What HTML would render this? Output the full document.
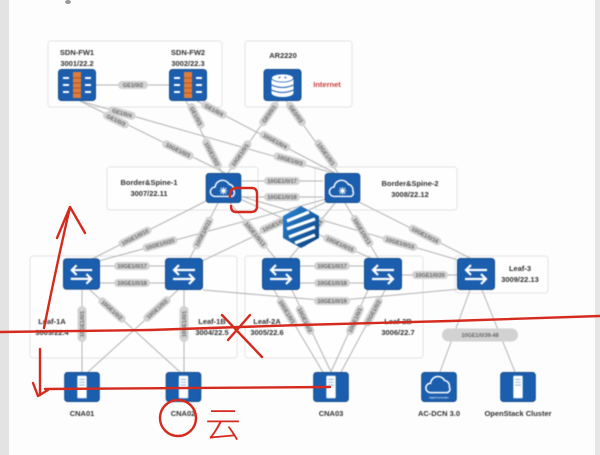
<!DOCTYPE html>
<html><head><meta charset="utf-8"><style>
html,body{margin:0;padding:0;background:#fdfdfd;}
svg{display:block;}
.ln{stroke:#b3b3b3;stroke-width:1;fill:none;}
.bx{fill:#fefefe;stroke:#e4e4e4;stroke-width:1;}
.lb rect{fill:#d2d2d2;}
.lb text{font-family:"Liberation Sans",sans-serif;font-weight:bold;font-size:5.5px;fill:#666;text-anchor:middle;}
.t{font-family:"Liberation Sans",sans-serif;font-weight:bold;font-size:7.5px;fill:#333;text-anchor:middle;}
.red{stroke:#d52b1e;stroke-width:2.4;fill:none;stroke-linecap:round;stroke-linejoin:round;}
</style></head><body>
<svg width="600" height="455" viewBox="0 0 600 455" xmlns="http://www.w3.org/2000/svg">
<defs>
<symbol id="fw" viewBox="0 0 38 32"><rect x="0.5" y="0.5" width="37" height="31" rx="3" fill="#1b5eae" stroke="#144b8c"/>
<rect x="15" y="3" width="8" height="26" fill="#e07b39"/><path d="M15 9H23M15 14H23M15 19H23M15 24H23" stroke="#a04a1a" stroke-width="0.8"/>
<path d="M5 9H11M5 16H11M5 23H11M27 9H33M27 16H33M27 23H33" stroke="#fff" stroke-width="2"/></symbol>
<symbol id="ar" viewBox="0 0 38 32"><rect x="0.5" y="0.5" width="37" height="31" rx="3" fill="#1b5eae" stroke="#144b8c"/>
<rect x="8" y="9" width="22" height="15" fill="#fff"/><ellipse cx="19" cy="9" rx="11" ry="4" fill="#fff" stroke="#1b5eae" stroke-width="0.8"/><ellipse cx="19" cy="24" rx="11" ry="4" fill="#fff"/>
<path d="M8 16Q19 21 30 16M8 21Q19 26 30 21" stroke="#1b5eae" stroke-width="1" fill="none"/><path d="M15 9L17 8M21 8L23 9" stroke="#1b5eae" stroke-width="1"/></symbol>
<symbol id="spine" viewBox="0 0 38 32"><rect x="0.5" y="0.5" width="37" height="31" rx="3" fill="#1b5eae" stroke="#144b8c"/>
<path d="M10 25a5 5 0 0 1 0-10a8 8 0 0 1 15-3a6 6 0 0 1 5 7a4 4 0 0 1-2 6Z" stroke="#fff" stroke-width="1.5" fill="none"/>
<path d="M19 15V23M15 19H23M16 16L22 22M22 16L16 22" stroke="#fff" stroke-width="1"/><circle cx="19" cy="19" r="1.8" fill="#fff"/></symbol>
<symbol id="leaf" viewBox="0 0 38 32"><rect x="0.5" y="0.5" width="37" height="31" rx="3" fill="#1b5eae" stroke="#144b8c"/>
<path d="M9 12H30M14 7L9 12L14 17M8 21H29M24 16L29 21L24 26" stroke="#fff" stroke-width="2.2" fill="none"/></symbol>
<symbol id="srv" viewBox="0 0 38 32"><rect x="0.5" y="0.5" width="37" height="31" rx="3" fill="#1b5eae" stroke="#144b8c"/>
<rect x="14" y="4" width="10" height="24" rx="1" fill="#fff"/><path d="M16 8H22M16 11H22M16 14H22" stroke="#8fb3dd" stroke-width="1"/></symbol>
<symbol id="ac" viewBox="0 0 38 32"><rect x="0.5" y="0.5" width="37" height="31" rx="3" fill="#1b5eae" stroke="#144b8c"/>
<path d="M10 22a5 5 0 0 1 0-10a8 8 0 0 1 15-3a6 6 0 0 1 5 7a4 4 0 0 1-2 6Z" stroke="#fff" stroke-width="1.6" fill="none"/>
<text x="19" y="28" font-family="Liberation Sans" font-size="3.2" fill="#fff" text-anchor="middle">AgileController</text></symbol>
<linearGradient id="lg" x1="0" y1="0" x2="1" y2="1"><stop offset="0" stop-color="#2a86d6"/><stop offset="1" stop-color="#0b3e7e"/></linearGradient>
</defs>

<rect x="0" y="0" width="600" height="455" fill="#fdfdfd"/>
<rect x="0" y="0" width="9" height="455" fill="#e3e3e3"/>
<rect x="595" y="0" width="5" height="455" fill="#e6e6e6"/>
<ellipse cx="68" cy="2" rx="3" ry="2" fill="#999"/>

<g style="filter:blur(0.5px)">
<rect class="bx" x="48" y="41" width="174" height="66" rx="3"/>
<rect class="bx" x="245" y="41" width="107" height="66" rx="3"/>
<rect class="bx" x="107" y="167" width="151" height="43" rx="3"/>
<rect class="bx" x="315" y="167" width="142" height="43" rx="3"/>
<rect class="bx" x="30" y="256" width="207" height="102" rx="3"/>
<rect class="bx" x="245" y="256" width="178" height="102" rx="3"/>
<rect class="bx" x="455" y="256" width="93" height="37" rx="3"/>

<path class="ln" d="M96 85H169"/>
<path class="ln" d="M80 101L225 173"/>
<path class="ln" d="M80 101L340 175"/>
<path class="ln" d="M186 101L222 173"/>
<path class="ln" d="M197 101L335 173"/>
<path class="ln" d="M278 101L228 173"/>
<path class="ln" d="M286 101L338 173"/>
<path class="ln" d="M242 181H323M242 197H323"/>
<path class="ln" d="M212 198L90 260"/>
<path class="ln" d="M330 198L95 262"/>
<path class="ln" d="M218 203L190 258"/>
<path class="ln" d="M330 200L200 262"/>
<path class="ln" d="M230 203L275 258"/>
<path class="ln" d="M335 203L290 258"/>
<path class="ln" d="M238 198L375 260"/>
<path class="ln" d="M345 203L378 258"/>
<path class="ln" d="M240 196L465 262"/>
<path class="ln" d="M355 200L470 258"/>
<path class="ln" d="M100 266H165M100 283H165M300 266H364M300 283H364M402 275H457"/>
<path class="ln" d="M203 290L332 301L460 289"/>
<path class="ln" d="M82 290V372M184 290V372M90 290L180 372M178 290L88 372"/>
<path class="ln" d="M274 290L324 374M292 290L332 374M368 290L330 374M385 290L340 374"/>
<path class="ln" d="M470 290L440 372M482 290L515 372"/>

<g class="lb">
<g transform="translate(133,85)"><rect x="-15" y="-4" width="30" height="8" rx="4"/><text y="2">GE1/0/2</text></g>
<g transform="translate(116,120) rotate(26)"><rect x="-14" y="-4" width="28" height="8" rx="4"/><text y="2">GE1/0/3</text></g>
<g transform="translate(178,150) rotate(26)"><rect x="-17" y="-4" width="34" height="8" rx="4"/><text y="2">10GE1/0/3</text></g>
<g transform="translate(122,113) rotate(16)"><rect x="-14" y="-4" width="28" height="8" rx="4"/><text y="2">GE1/0/4</text></g>
<g transform="translate(290,160) rotate(16)"><rect x="-17" y="-4" width="34" height="8" rx="4"/><text y="2">10GE1/0/3</text></g>
<g transform="translate(196,116) rotate(63)"><rect x="-14" y="-4" width="28" height="8" rx="4"/><text y="2">GE1/0/3</text></g>
<g transform="translate(212,154) rotate(63)"><rect x="-17" y="-4" width="34" height="8" rx="4"/><text y="2">10GE1/0/2</text></g>
<g transform="translate(214,110) rotate(28)"><rect x="-14" y="-4" width="28" height="8" rx="4"/><text y="2">GE1/0/4</text></g>
<g transform="translate(275,141) rotate(28)"><rect x="-17" y="-4" width="34" height="8" rx="4"/><text y="2">10GE1/0/4</text></g>
<g transform="translate(269,114) rotate(-55)"><rect x="-14" y="-4" width="28" height="8" rx="4"/><text y="2">GE0/0/1</text></g>
<g transform="translate(240,155) rotate(-55)"><rect x="-17" y="-4" width="34" height="8" rx="4"/><text y="2">10GE1/0/1</text></g>
<g transform="translate(296,114) rotate(54)"><rect x="-14" y="-4" width="28" height="8" rx="4"/><text y="2">GE0/0/2</text></g>
<g transform="translate(326,154) rotate(54)"><rect x="-17" y="-4" width="34" height="8" rx="4"/><text y="2">10GE1/0/1</text></g>
<g transform="translate(282,181)"><rect x="-18" y="-4" width="36" height="8" rx="4"/><text y="2">10GE1/0/17</text></g>
<g transform="translate(282,197)"><rect x="-18" y="-4" width="36" height="8" rx="4"/><text y="2">10GE1/0/18</text></g>
<g transform="translate(135,237) rotate(-27)"><rect x="-18" y="-4" width="36" height="8" rx="4"/><text y="2">10GE1/0/10</text></g>
<g transform="translate(160,244) rotate(-15)"><rect x="-18" y="-4" width="36" height="8" rx="4"/><text y="2">10GE1/0/20</text></g>
<g transform="translate(203,233) rotate(-63)"><rect x="-18" y="-4" width="36" height="8" rx="4"/><text y="2">10GE1/0/11</text></g>
<g transform="translate(276,224) rotate(-25)"><rect x="-18" y="-4" width="36" height="8" rx="4"/><text y="2">10GE1/0/12</text></g>
<g transform="translate(255,234) rotate(51)"><rect x="-18" y="-4" width="36" height="8" rx="4"/><text y="2">10GE1/0/13</text></g>
<g transform="translate(312,232) rotate(-51)"><rect x="-18" y="-4" width="36" height="8" rx="4"/><text y="2">10GE1/0/14</text></g>
<g transform="translate(340,244) rotate(24)"><rect x="-18" y="-4" width="36" height="8" rx="4"/><text y="2">10GE1/0/15</text></g>
<g transform="translate(362,231) rotate(59)"><rect x="-18" y="-4" width="36" height="8" rx="4"/><text y="2">10GE1/0/13</text></g>
<g transform="translate(400,243) rotate(16)"><rect x="-18" y="-4" width="36" height="8" rx="4"/><text y="2">10GE1/0/15</text></g>
<g transform="translate(425,235) rotate(27)"><rect x="-18" y="-4" width="36" height="8" rx="4"/><text y="2">10GE1/0/16</text></g>
<g transform="translate(132,266)"><rect x="-18" y="-4" width="36" height="8" rx="4"/><text y="2">10GE1/0/17</text></g>
<g transform="translate(132,283)"><rect x="-18" y="-4" width="36" height="8" rx="4"/><text y="2">10GE1/0/18</text></g>
<g transform="translate(332,266)"><rect x="-18" y="-4" width="36" height="8" rx="4"/><text y="2">10GE1/0/17</text></g>
<g transform="translate(332,283)"><rect x="-18" y="-4" width="36" height="8" rx="4"/><text y="2">10GE1/0/18</text></g>
<g transform="translate(430,275)"><rect x="-18" y="-4" width="36" height="8" rx="4"/><text y="2">10GE1/0/20</text></g>
<g transform="translate(332,301)"><rect x="-18" y="-4" width="36" height="8" rx="4"/><text y="2">10GE1/0/19</text></g>
<g transform="translate(82,324) rotate(-90)"><rect x="-18" y="-4.5" width="36" height="9" rx="4.5"/><text y="2">10GE1/0/1</text></g>
<g transform="translate(184,324) rotate(-90)"><rect x="-18" y="-4.5" width="36" height="9" rx="4.5"/><text y="2">10GE1/0/1</text></g>
<g transform="translate(112,310) rotate(42)"><rect x="-17" y="-4" width="34" height="8" rx="4"/><text y="2">10GE1/0/2</text></g>
<g transform="translate(157,309) rotate(-42)"><rect x="-17" y="-4" width="34" height="8" rx="4"/><text y="2">10GE1/0/2</text></g>
<g transform="translate(287,312) rotate(59)"><rect x="-16" y="-4" width="32" height="8" rx="4"/><text y="2">10GE1/0/1</text></g>
<g transform="translate(305,320) rotate(64)"><rect x="-16" y="-4" width="32" height="8" rx="4"/><text y="2">10GE1/0/2</text></g>
<g transform="translate(355,320) rotate(-66)"><rect x="-16" y="-4" width="32" height="8" rx="4"/><text y="2">10GE1/0/1</text></g>
<g transform="translate(373,312) rotate(-62)"><rect x="-16" y="-4" width="32" height="8" rx="4"/><text y="2">10GE1/0/2</text></g>
<g transform="translate(480,335)"><rect x="-38" y="-6.5" width="76" height="13" rx="6.5"/><text y="2">10GE1/0/39-48</text></g>
</g>

<use href="#fw" x="58" y="69" width="38" height="32"/>
<use href="#fw" x="169" y="69" width="38" height="32"/>
<use href="#ar" x="263" y="69" width="39" height="32"/>
<use href="#spine" x="205" y="173" width="37" height="30"/>
<use href="#spine" x="323" y="173" width="39" height="30"/>
<use href="#leaf" x="63" y="258" width="37" height="32"/>
<use href="#leaf" x="165" y="258" width="38" height="32"/>
<use href="#leaf" x="262" y="258" width="38" height="32"/>
<use href="#leaf" x="364" y="258" width="38" height="32"/>
<use href="#leaf" x="457" y="258" width="38" height="32"/>
<use href="#srv" x="63" y="372" width="38" height="30"/>
<use href="#srv" x="165" y="372" width="37" height="30"/>
<use href="#srv" x="312" y="372" width="38" height="30"/>
<use href="#ac" x="420" y="372" width="38" height="30"/>
<use href="#srv" x="499" y="372" width="38" height="30"/>

<text class="t" x="77" y="55">SDN-FW1</text>
<text class="t" x="77" y="66">3001/22.2</text>
<text class="t" x="188" y="55">SDN-FW2</text>
<text class="t" x="188" y="66">3002/22.3</text>
<text class="t" x="283" y="58">AR2220</text>
<text class="t" x="327" y="87" style="fill:#c9403a">Internet</text>
<text class="t" x="149" y="185">Border&amp;Spine-1</text>
<text class="t" x="149" y="196">3007/22.11</text>
<text class="t" x="410" y="186">Border&amp;Spine-2</text>
<text class="t" x="410" y="197">3008/22.12</text>
<text class="t" x="520" y="271">Leaf-3</text>
<text class="t" x="520" y="282">3009/22.13</text>
<text class="t" x="52" y="324">Leaf-1A</text>
<text class="t" x="52" y="335">3003/22.4</text>
<text class="t" x="212" y="324">Leaf-1B</text>
<text class="t" x="212" y="335">3004/22.5</text>
<text class="t" x="267" y="324">Leaf-2A</text>
<text class="t" x="267" y="335">3005/22.6</text>
<text class="t" x="398" y="324">Leaf-2B</text>
<text class="t" x="398" y="335">3006/22.7</text>
<text class="t" x="82" y="416">CNA01</text>
<text class="t" x="183" y="416">CNA02</text>
<text class="t" x="331" y="416">CNA03</text>
<text class="t" x="439" y="416">AC-DCN 3.0</text>
<text class="t" x="518" y="416">OpenStack Cluster</text>

<g transform="translate(301,227)">
<polygon points="0,-21 18,-11 18,11 0,21 -18,11 -18,-11" fill="url(#lg)"/>
<path d="M-14,-6 L8,-15 M-14,2 L14,-8 M-12,10 L14,0 M-6,16 L14,8" stroke="#fff" stroke-width="3.2" fill="none"/>
</g>
</g>

<path class="red" d="M0 332L150 330L300 325L450 321L600 316"/>
<path class="red" d="M44 328Q56 268 70 207M57 238L70 207L85 233"/>
<path class="red" d="M40 349L40 395M33 383L38 396L48 390M45 389L330 387"/>
<path class="red" d="M230 197Q229 189 236 188L252 188Q257 188 257 194L257 206Q257 212 251 212L236 212Q231 212 231 206"/>
<path class="red" d="M222 315L262 357M250 315L228 340"/>
<ellipse class="red" cx="178" cy="418" rx="18" ry="18"/>
<text x="205" y="437" font-family="'Noto Sans CJK SC',sans-serif" font-size="36" fill="#d52b1e" font-weight="300">云</text>
</svg>
</body></html>
